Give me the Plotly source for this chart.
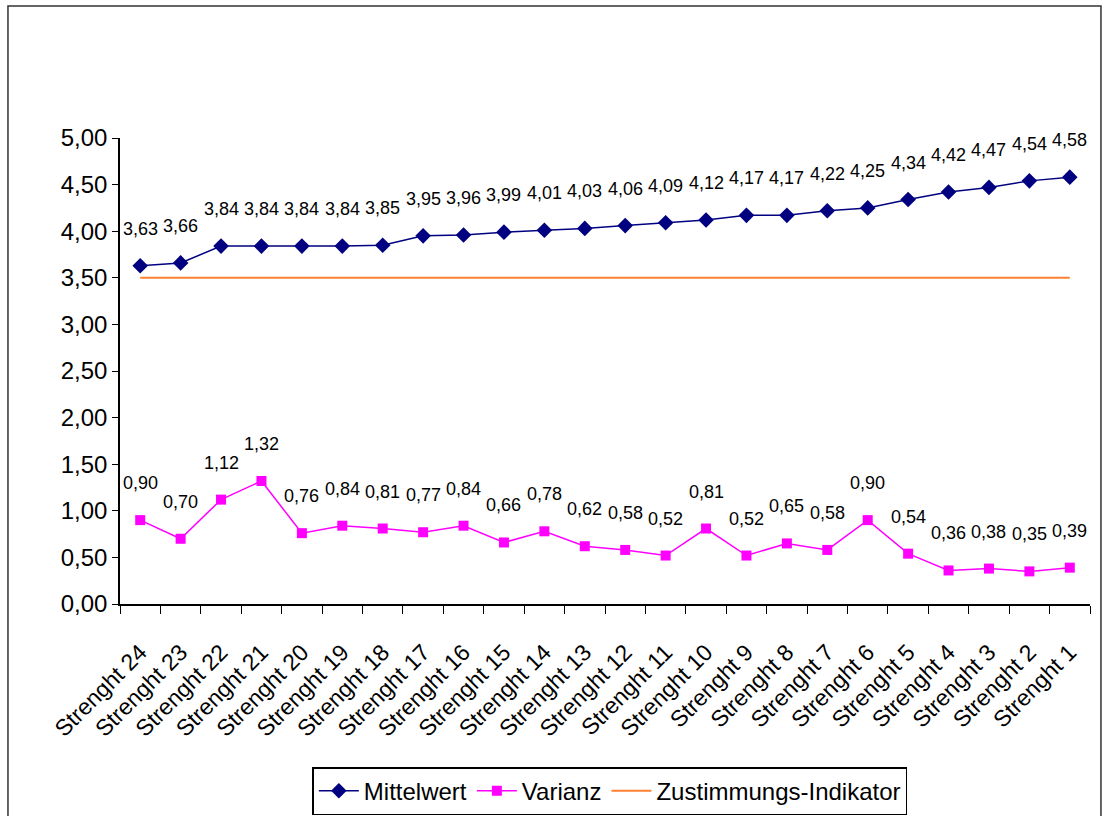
import plotly.graph_objects as go

categories = [f"Strenght {i}" for i in range(24, 0, -1)]
mittelwert = [3.63, 3.66, 3.84, 3.84, 3.84, 3.84, 3.85, 3.95, 3.96, 3.99, 4.01, 4.03,
              4.06, 4.09, 4.12, 4.17, 4.17, 4.22, 4.25, 4.34, 4.42, 4.47, 4.54, 4.58]
varianz = [0.90, 0.70, 1.12, 1.32, 0.76, 0.84, 0.81, 0.77, 0.84, 0.66, 0.78, 0.62,
           0.58, 0.52, 0.81, 0.52, 0.65, 0.58, 0.90, 0.54, 0.36, 0.38, 0.35, 0.39]
indikator = [3.50] * len(categories)
y_ticks = [0, 0.5, 1.0, 1.5, 2.0, 2.5, 3.0, 3.5, 4.0, 4.5, 5.0]

FONT = "Liberation Sans, Arial, sans-serif"


def fmt(v):
    return f"{v:.2f}".replace(".", ",")


fig = go.Figure()
fig.add_trace(go.Scatter(
    x=categories, y=mittelwert, name="Mittelwert", mode="lines+markers",
    line=dict(color="#000080", width=1.5),
    marker=dict(symbol="diamond", size=12, color="#000080"),
))
fig.add_trace(go.Scatter(
    x=categories, y=varianz, name="Varianz", mode="lines+markers",
    line=dict(color="#FF00FF", width=1.5),
    marker=dict(symbol="square", size=10, color="#FF00FF"),
))
fig.add_trace(go.Scatter(
    x=categories, y=indikator, name="Zustimmungs-Indikator", mode="lines",
    line=dict(color="#FF8033", width=2),
))

annotations = []
for series in (mittelwert, varianz):
    for cat, v in zip(categories, series):
        annotations.append(dict(
            x=cat, y=v, text=fmt(v), showarrow=False, yshift=37,
            font=dict(family=FONT, size=18, color="#000000"),
        ))

fig.update_layout(
    width=1104, height=816,
    margin=dict(l=120, r=14, t=138, b=212, autoexpand=False),
    paper_bgcolor="white", plot_bgcolor="white",
    separators=", ",
    font=dict(family=FONT, color="#000000"),
    annotations=annotations,
    showlegend=True,
    legend=dict(
        orientation="h", x=0.505, xanchor="center", y=-0.35, yanchor="top",
        bordercolor="#000000", borderwidth=1.5,
        font=dict(family=FONT, size=24), itemwidth=40,
        tracegroupgap=0,
    ),
    shapes=[dict(
        type="rect", xref="paper", yref="paper",
        x0=-0.1155, x1=1.0113, y0=-0.52, y1=1.283,
        line=dict(color="#333333", width=1.5),
    )],
)
fig.update_xaxes(
    type="category", showgrid=False, showline=True, linecolor="#000000", linewidth=1.5,
    ticks="outside", ticklen=8, tickcolor="#000000", tickson="boundaries",
    tickangle=-45, tickfont=dict(family=FONT, size=23), ticklabelstandoff=24,
    range=[-0.5, len(categories) - 0.5], automargin=False,
)
fig.update_yaxes(
    range=[0, 5], tickvals=y_ticks, tickformat=".2f",
    showgrid=False, zeroline=False, showline=True, linecolor="#000000", linewidth=1.5,
    ticks="outside", ticklen=6, tickcolor="#000000",
    tickfont=dict(family=FONT, size=24), automargin=False,
)

fig.write_html("out.html")
